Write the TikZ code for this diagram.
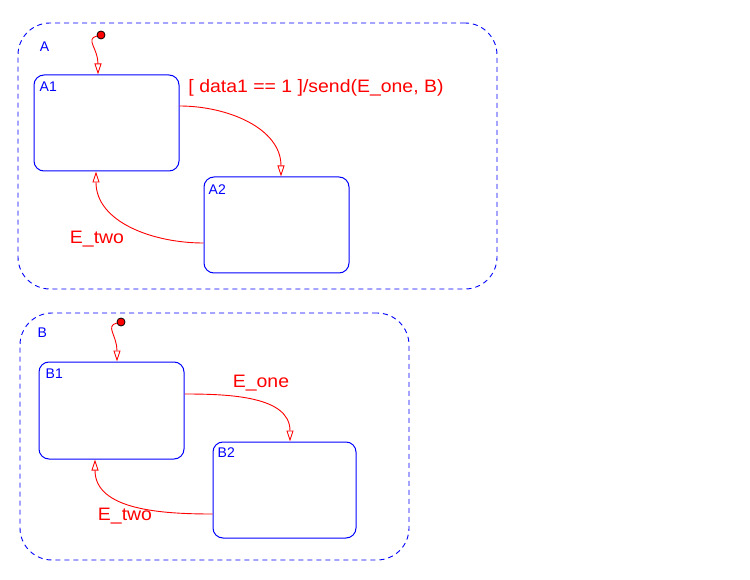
\documentclass[tikz,border=0pt]{standalone}
\usepackage{fontspec}
\setmainfont{Liberation Sans}
\usetikzlibrary{arrows.meta}

\tikzset{
	chart/.style={draw=blue, line width=0.9pt, dash pattern=on 5pt off 4pt, rounded corners=32pt, minimum width=#1, inner sep=0pt},
	state/.style={draw=blue, line width=1pt, rounded corners=10pt, minimum width=145pt, minimum height=96pt, inner sep=0pt},
	statename/.style={text=blue, font=\fontsize{14}{16}\selectfont, inner sep=0pt, anchor=north west},
	trans/.style={draw=red, line width=0.9pt, -{Triangle[open, length=11pt, width=7pt]}},
	translabel/.style={text=red, font=\fontsize{18}{21}\selectfont, inner sep=0pt, xscale=1.08},
	defdot/.style={circle, fill=red, draw=black, line width=0.8pt, minimum size=8pt, inner sep=0pt}
}

\begin{document}
\begin{tikzpicture}[x=1pt, y=1pt]
	\useasboundingbox (0,0) rectangle (750,-580);	%page size of the reference

	%chart A
	\node[chart=479pt, minimum height=266pt] (A) at (257.5,-156) {};
	\node[statename] (Aname) at ([shift={(22pt,-19pt)}]A.north west) {A};
	\node[state] (A1) at (106.5,-123) {};
	\node[state] (A2) at (276.5,-225) {};
	\node[statename] (A1name) at ([shift={(6pt,-7pt)}]A1.north west) {A1};
	\node[statename] (A2name) at ([shift={(5pt,-8pt)}]A2.north west) {A2};
	\node[defdot] (Adef) at (101,-35) {};
	\draw[trans] (Adef) .. controls +(-16,-4) and +(0,26) .. ([xshift=-8.5pt]A1.north);	%default transition
	\draw[trans] ([yshift=17pt]A1.east) to[out=0, in=90] ([xshift=4.5pt]A2.north);	%A1 -- A2
	\draw[trans] ([yshift=-18pt]A2.west) to[out=180, in=-90] ([xshift=-10.5pt]A1.south);	%A2 -- A1
	\node[translabel] (Asend) at (316,-88) {[ data1 == 1 ]/send(E\_one, B)};
	\node[translabel] (Atwo) at (97,-239) {E\_two};

	%chart B
	\node[chart=389pt, minimum height=247pt] (B) at (214.5,-436.5) {};
	\node[statename] (Bname) at ([shift={(18pt,-15pt)}]B.north west) {B};
	\node[state, minimum height=97pt] (B1) at (111.5,-410.5) {};
	\node[state, minimum width=143pt] (B2) at (284.5,-490) {};
	\node[statename] (B1name) at ([shift={(7pt,-7pt)}]B1.north west) {B1};
	\node[statename] (B2name) at ([shift={(5pt,-6pt)}]B2.north west) {B2};
	\node[defdot] (Bdef) at (121,-322) {};
	\draw[trans] (Bdef) .. controls +(-16,-4) and +(0,26) .. ([xshift=5.5pt]B1.north);	%default transition
	\draw[trans] ([yshift=16.5pt]B1.east) to[out=0, in=90] ([xshift=5.5pt]B2.north);	%B1 -- B2
	\draw[trans] ([yshift=-24pt]B2.west) to[out=180, in=-90] ([xshift=-16.5pt]B1.south);	%B2 -- B1
	\node[translabel] (Bone) at (261,-383) {E\_one};
	\node[translabel] (Btwo) at (125,-516) {E\_two};
\end{tikzpicture}
\end{document}
